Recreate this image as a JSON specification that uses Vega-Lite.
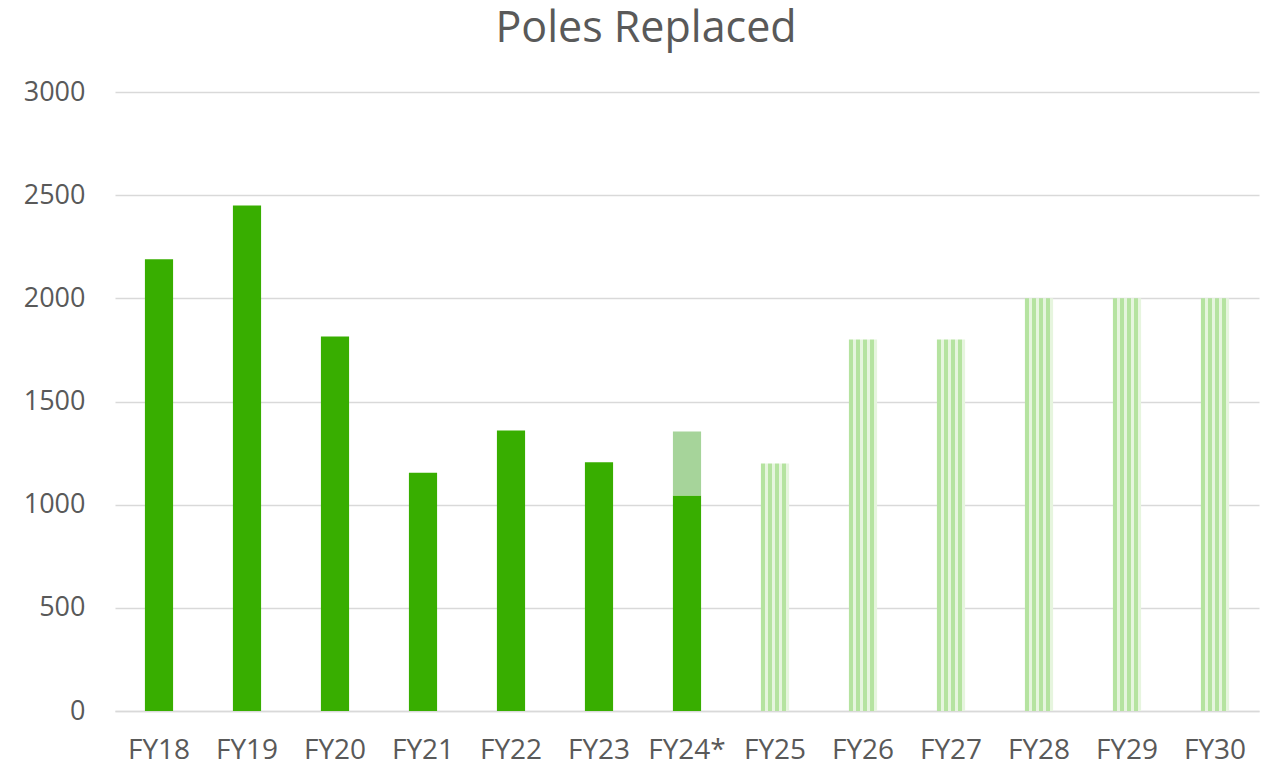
{
  "$schema": "https://vega.github.io/schema/vega-lite/v6.json",
  "width": 1144,
  "height": 619,
  "autosize": {"type": "none"},
  "padding": {"left": 115, "top": 92, "right": 2, "bottom": 55},
  "background": "white",
  "title": {
    "text": "Poles Replaced",
    "font": "Open Sans",
    "fontSize": 43,
    "fontWeight": "normal",
    "color": "#595959",
    "anchor": "middle",
    "dx": -41,
    "offset": 27
  },
  "config": {
    "view": {"stroke": null},
    "axis": {
      "labelFont": "Open Sans",
      "labelColor": "#595959",
      "ticks": false,
      "title": null
    }
  },
  "data": {
    "values": [
      {"year": "FY18", "kind": "Actual", "start": 0, "end": 2190},
      {"year": "FY19", "kind": "Actual", "start": 0, "end": 2450},
      {"year": "FY20", "kind": "Actual", "start": 0, "end": 1815},
      {"year": "FY21", "kind": "Actual", "start": 0, "end": 1155},
      {"year": "FY22", "kind": "Actual", "start": 0, "end": 1360},
      {"year": "FY23", "kind": "Actual", "start": 0, "end": 1205},
      {"year": "FY24*", "kind": "Actual", "start": 0, "end": 1045},
      {"year": "FY24*", "kind": "Projected", "start": 1045, "end": 1355},
      {"year": "FY25", "kind": "Plan", "start": 0, "end": 1200},
      {"year": "FY26", "kind": "Plan", "start": 0, "end": 1800},
      {"year": "FY27", "kind": "Plan", "start": 0, "end": 1800},
      {"year": "FY28", "kind": "Plan", "start": 0, "end": 2000},
      {"year": "FY29", "kind": "Plan", "start": 0, "end": 2000},
      {"year": "FY30", "kind": "Plan", "start": 0, "end": 2000}
    ]
  },
  "encoding": {
    "x": {
      "field": "year",
      "type": "nominal",
      "sort": null,
      "scale": {"paddingInner": 0.68, "paddingOuter": 0.34},
      "axis": {"labelAngle": 0, "labelFontSize": 28, "labelPadding": 25, "domain": true, "domainColor": "#D9D9D9", "domainWidth": 1.5, "grid": false}
    },
    "y": {
      "field": "start",
      "type": "quantitative",
      "scale": {"domain": [0, 3000], "nice": false},
      "axis": {"values": [0, 500, 1000, 1500, 2000, 2500, 3000], "format": "d", "labelFontSize": 27, "labelPadding": 30, "domain": false, "grid": true, "gridColor": "#D9D9D9", "gridWidth": 1.5}
    },
    "y2": {"field": "end"}
  },
  "layer": [
    {
      "transform": [{"filter": "datum.kind === 'Actual'"}],
      "mark": {"type": "bar", "fill": "#38AE00"}
    },
    {
      "transform": [{"filter": "datum.kind === 'Projected'"}],
      "mark": {"type": "bar", "fill": "#A6D49A"}
    },
    {
      "transform": [{"filter": "datum.kind === 'Plan'"}],
      "mark": {
        "type": "bar",
        "fill": {
          "gradient": "linear",
          "x1": 0, "y1": 0, "x2": 1, "y2": 0,
          "stops": [
            {"offset": 0, "color": "#B5E3A0"},
            {"offset": 0.14, "color": "#B5E3A0"},
            {"offset": 0.14, "color": "#E6F5DE"},
            {"offset": 0.25, "color": "#E6F5DE"},
            {"offset": 0.25, "color": "#B5E3A0"},
            {"offset": 0.39, "color": "#B5E3A0"},
            {"offset": 0.39, "color": "#E6F5DE"},
            {"offset": 0.5, "color": "#E6F5DE"},
            {"offset": 0.5, "color": "#B5E3A0"},
            {"offset": 0.64, "color": "#B5E3A0"},
            {"offset": 0.64, "color": "#E6F5DE"},
            {"offset": 0.75, "color": "#E6F5DE"},
            {"offset": 0.75, "color": "#B5E3A0"},
            {"offset": 0.89, "color": "#B5E3A0"},
            {"offset": 0.89, "color": "#E6F5DE"},
            {"offset": 1, "color": "#E6F5DE"}
          ]
        }
      }
    }
  ]
}
